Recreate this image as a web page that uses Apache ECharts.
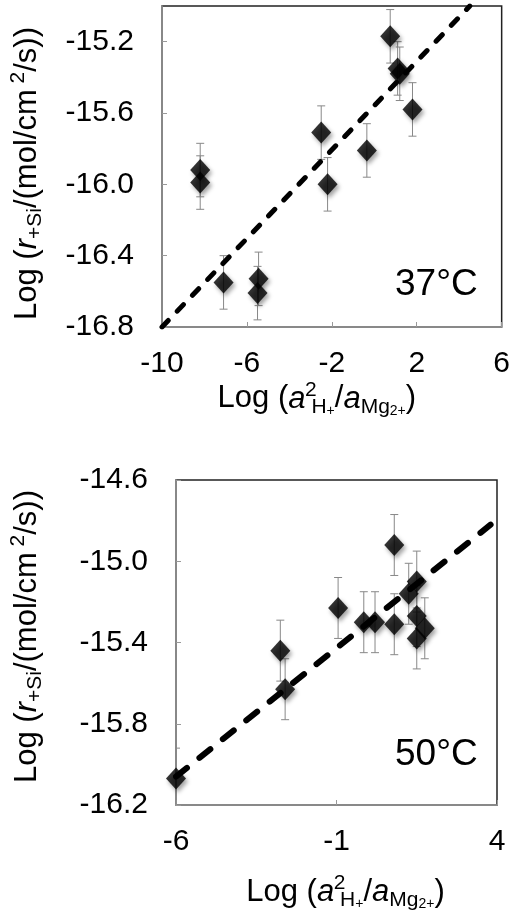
<!DOCTYPE html>
<html>
<head>
<meta charset="utf-8">
<script src="https://cdn.jsdelivr.net/npm/echarts@6/dist/echarts.min.js"></script>
<style>
  html, body { margin: 0; padding: 0; background: #fff; }
  #chart { width: 513px; height: 913px; }
</style>
</head>
<body>
<div id="chart"></div>
<script>
// 37°C data
const x37 = [-8.2, -8.2, -7.1, -5.45, -5.5, -2.5, -2.2, -0.35, 0.75, 1.1, 1.2, 1.8]
const y37 = [-15.92, -15.99, -16.55, -16.53, -16.61, -15.71, -16.0, -15.81, -15.17, -15.35, -15.38, -15.58]
const err37 = [0.15, 0.15, 0.15, 0.15, 0.15, 0.15, 0.15, 0.15, 0.15, 0.15, 0.15, 0.15]
const fit37X = [-10, 4.5]
const fit37Y = [-16.8, -15.0]

// 50°C data
const x50 = [-6.0, -2.75, -2.6, -0.95, -0.15, 0.2, 0.8, 0.8, 1.25, 1.5, 1.5, 1.75, 1.5]
const y50 = [-16.07, -15.44, -15.63, -15.23, -15.3, -15.3, -14.92, -15.31, -15.16, -15.1, -15.27, -15.33, -15.38]
const err50 = [0.15, 0.15, 0.15, 0.15, 0.15, 0.15, 0.15, 0.15, 0.15, 0.15, 0.15, 0.15, 0.15]
const fit50X = [-6, 3.8]
const fit50Y = [-16.06, -14.82]

const labels = ['37°C', '50°C']

const FONT = 'Liberation Sans, Arial, sans-serif'

const yName = '{n|Log (}{i|r}{sub|+Si}{n|/(mol/cm}{sup| 2}{n|/s))}'
const xName = '{n|Log (}{i|a}{sup2|2}{sub|H}{subp|+}{n|/}{i|a}{sub|Mg}{subp|2+}{n|)}'

const richStyle = {
    n: { fontSize: 31, fontFamily: FONT, color: '#000', lineHeight: 38 },
    i: { fontSize: 31, fontFamily: FONT, color: '#000', fontStyle: 'italic', lineHeight: 38 },
    sub: { fontSize: 21, fontFamily: FONT, color: '#000', lineHeight: 18, verticalAlign: 'bottom' },
    subp: { fontSize: 14, fontFamily: FONT, color: '#000', lineHeight: 28, verticalAlign: 'bottom' },
    sup: { fontSize: 21, fontFamily: FONT, color: '#000', lineHeight: 24, verticalAlign: 'top' },
    sup2: { fontSize: 21, fontFamily: FONT, color: '#000', lineHeight: 24, verticalAlign: 'top',
            width: 1, align: 'left', padding: [0, 0, 0, 5] }
}

function toPts(xs, ys) {
    return xs.map((x, i) => [x, ys[i]])
}

function toErr(xs, ys, es) {
    return xs.map((x, i) => [x, ys[i], es[i]])
}

function xAxisCfg(gridIndex, min, max, interval, nameGap, namePad) {
    return {
        type: 'value', gridIndex, min, max, interval,
        name: xName, nameLocation: 'middle', nameGap,
        nameTextStyle: { rich: richStyle, padding: namePad },
        axisLine: { onZero: false, lineStyle: { color: '#999', width: 1.5 } },
        axisTick: { inside: true, length: 5, lineStyle: { color: '#999', width: 1 } },
        axisLabel: { fontSize: 30, color: '#000', fontFamily: FONT, margin: 22 },
        splitLine: { show: false }
    }
}

function yAxisCfg(gridIndex, min, max, interval, nameGap, showMax, namePad) {
    return {
        type: 'value', gridIndex, min, max, interval,
        name: yName, nameLocation: 'middle', nameGap, nameRotate: 90,
        nameTextStyle: { rich: richStyle, padding: namePad },
        axisLine: { onZero: false, lineStyle: { color: '#999', width: 1.5 } },
        axisTick: { inside: true, length: 5, lineStyle: { color: '#999', width: 1 } },
        axisLabel: { fontSize: 30, color: '#000', fontFamily: FONT, margin: 28, showMaxLabel: showMax,
                     formatter: v => v.toFixed(1) },
        splitLine: { show: false }
    }
}

function errSeries(idx, data) {
    return {
        type: 'custom', xAxisIndex: idx, yAxisIndex: idx, data, clip: true, z: 1,
        renderItem(params, api) {
            const x = api.value(0), y = api.value(1), e = api.value(2)
            const hi = api.coord([x, y + e])
            const lo = api.coord([x, y - e])
            const w = 4
            const st = { stroke: '#888', lineWidth: 1 }
            return {
                type: 'group', children: [
                    { type: 'line', shape: { x1: hi[0], y1: hi[1], x2: lo[0], y2: lo[1] }, style: st },
                    { type: 'line', shape: { x1: hi[0] - w, y1: hi[1], x2: hi[0] + w, y2: hi[1] }, style: st },
                    { type: 'line', shape: { x1: lo[0] - w, y1: lo[1], x2: lo[0] + w, y2: lo[1] }, style: st }
                ]
            }
        }
    }
}

function scatterSeries(idx, data) {
    return {
        type: 'scatter', xAxisIndex: idx, yAxisIndex: idx, data, clip: false, z: 3,
        symbol: 'diamond', symbolSize: [20, 22],
        itemStyle: {
            color: '#000', shadowColor: 'rgba(0,0,0,0.45)', shadowBlur: 4,
            shadowOffsetX: 2, shadowOffsetY: 3
        }
    }
}

function fitSeries(idx, data, width, dash) {
    return {
        type: 'line', xAxisIndex: idx, yAxisIndex: idx, data, symbol: 'none', z: 4,
        lineStyle: { color: '#000', width, type: dash, cap: 'round' }
    }
}

const chart = echarts.init(document.getElementById('chart'))

chart.setOption({
    animation: false,
    backgroundColor: '#fff',
    title: [
        { text: labels[0], left: 395, top: 266, padding: 0,
          textStyle: { fontSize: 37, fontWeight: 'normal', fontFamily: FONT, color: '#000' } },
        { text: labels[1], left: 395, top: 736, padding: 0,
          textStyle: { fontSize: 37, fontWeight: 'normal', fontFamily: FONT, color: '#000' } }
    ],
    grid: [
        { left: 159, top: 6, width: 343, height: 321, show: true, borderColor: '#222', borderWidth: 1.5 },
        { left: 173, top: 480, width: 324, height: 325, show: true, borderColor: '#222', borderWidth: 1.5 }
    ],
    xAxis: [
        xAxisCfg(0, -10, 6, 4, 46, [0, 30, 0, 0]),
        xAxisCfg(1, -6, 4, 5, 68, [0, 0, 0, 18])
    ],
    yAxis: [
        yAxisCfg(0, -16.8, -15.0, 0.4, 116, false, [0, 14, 0, 0]),
        yAxisCfg(1, -16.2, -14.6, 0.4, 130, true, [0, 0, 0, 12])
    ],
    series: [
        errSeries(0, toErr(x37, y37, err37)),
        scatterSeries(0, toPts(x37, y37)),
        fitSeries(0, toPts(fit37X, fit37Y), 5, [9, 13]),
        errSeries(1, toErr(x50, y50, err50)),
        scatterSeries(1, toPts(x50, y50)),
        fitSeries(1, toPts(fit50X, fit50Y), 6, [14, 16])
    ]
})
</script>
</body>
</html>
